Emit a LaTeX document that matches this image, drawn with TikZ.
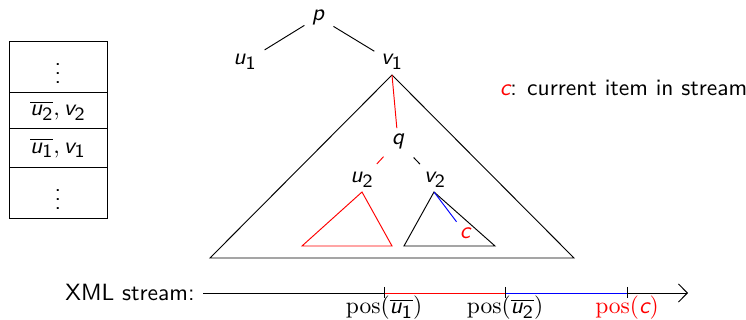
\documentclass[tikz,border=0pt]{standalone}
\usepackage{amsmath}
\usetikzlibrary{arrows.meta,calc}
\DeclareMathSizes{10}{10}{8}{6}
\newcommand\sv[1]{\textsf{\itshape #1}}
\newcommand\sn[1]{\textsf{#1}}
\begin{document}
\begin{tikzpicture}[x=0.4255pt,y=-0.4255pt,font=\sffamily\fontsize{10}{12}\selectfont,
  cell/.style={draw,minimum width=41.7pt,inner sep=0pt},
  lbl/.style={inner sep=1pt},
  thin]
\useasboundingbox (0,0) rectangle (746,320);
% stack
\node[cell,minimum height=21.7pt] (s1) at (58,66.5) {\vdots};
\node[cell,minimum height=15.7pt] (s2) at (58,110.5) {$\overline{\sv{u}_{\sn{2}}}, \sv{v}_{\sn{2}}$};
\node[cell,minimum height=16.2pt] (s3) at (58,148) {$\overline{\sv{u}_{\sn{1}}}, \sv{v}_{\sn{1}}$};
\node[cell,minimum height=21.7pt] (s4) at (58,192.5) {\vdots};
% tree
\node[lbl] (p) at (318,17) {$\sv{p}$};
\node[lbl] (u1) at (245,62) {$\sv{u}_{\sn{1}}$};
\node[lbl] (v1) at (392,62) {$\sv{v}_{\sn{1}}$};
\draw[shorten <=6.8pt,shorten >=9.8pt] (p.center) -- (u1.center);
\draw[shorten <=7.7pt,shorten >=8.8pt] (p.center) -- (v1.center);
\coordinate (T1) at (392,75);
\coordinate (T2) at (210,258);
\coordinate (T3) at (574,258);
\draw (T1) -- (T2) -- (T3) -- cycle;
\node[lbl] (q) at (398,141) {$\sv{q}$};
\draw[red,shorten >=5.5pt] (T1) -- (q.center);
\node[lbl] (u2) at (362,180) {$\sv{u}_{\sn{2}}$};
\node[lbl] (v2) at (435,180) {$\sv{v}_{\sn{2}}$};
\draw[red,shorten <=9.1pt,shorten >=9.3pt] (q.center) -- (u2.center);
\draw[shorten <=9.7pt,shorten >=9.3pt] (q.center) -- (v2.center);
\coordinate (R1) at (362,192);
\coordinate (R2) at (302,246);
\coordinate (R3) at (392,246);
\draw[red] (R1) -- (R2) -- (R3) -- cycle;
\coordinate (B1) at (434,192);
\coordinate (B2) at (404,246);
\coordinate (B3) at (495,246);
\draw (B1) -- (B2) -- (B3) -- cycle;
\node[lbl,text=red] (c) at (465,233) {$\sv{c}$};
\draw[blue,shorten >=6pt] (B1) -- (c.center);
\node[lbl,anchor=west] (leg) at (497,88) {\textcolor{red}{$\sv{c}$}: current item in stream};
% stream
\node[lbl] (xml) at (130,292) {XML stream:};
\coordinate (A0) at (203,293);
\coordinate (P1) at (384,293);
\coordinate (P2) at (505,293);
\coordinate (P3) at (627,293);
\coordinate (A1) at (688,293);
\draw (A0) -- (P1);
\draw[red] (P1) -- (P2);
\draw[blue] (P2) -- (P3);
\draw[-{Straight Barb[length=3.8pt,width=7.7pt]}] (P3) -- (A1);
\foreach \t in {P1,P2,P3} \draw ($(\t)+(0,-6)$) -- ($(\t)+(0,5)$);
\node[lbl] (l1) at (384,308) {$\mathrm{pos}(\overline{\sv{u}_{\sn{1}}})$};
\node[lbl] (l2) at (505,308) {$\mathrm{pos}(\overline{\sv{u}_{\sn{2}}})$};
\node[lbl,text=red] (l3) at (627,308) {$\mathrm{pos}(\sv{c})$};
\end{tikzpicture}
\end{document}
